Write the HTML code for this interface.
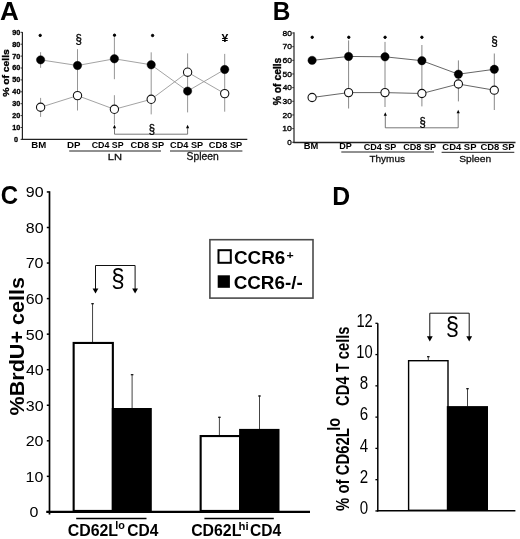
<!DOCTYPE html>
<html><head><meta charset="utf-8"><style>
html,body{margin:0;padding:0;background:#fff;}
body{width:520px;height:539px;overflow:hidden;font-family:"Liberation Sans", sans-serif;}
svg{display:block;filter:grayscale(1);}
</style></head><body>
<svg width="520" height="539" viewBox="0 0 520 539">
<rect width="520" height="539" fill="#fff"/>
<text transform="translate(0.05,19.80) scale(1.020,1)" font-family='"Liberation Sans", sans-serif' font-size="25.58" font-weight="bold" fill="#000">A</text>
<line x1="22.40" y1="32.00" x2="22.40" y2="139.90" stroke="#222" stroke-width="1.2"/>
<line x1="20.60" y1="32.30" x2="22.40" y2="32.30" stroke="#333" stroke-width="1"/>
<text transform="translate(12.29,34.78) scale(1.050,1)" font-family='"Liberation Sans", sans-serif' font-size="6.90" font-weight="bold" fill="#000" stroke="#000" stroke-width="0.3">90</text>
<line x1="20.60" y1="44.20" x2="22.40" y2="44.20" stroke="#333" stroke-width="1"/>
<text transform="translate(12.30,46.68) scale(1.050,1)" font-family='"Liberation Sans", sans-serif' font-size="6.90" font-weight="bold" fill="#000" stroke="#000" stroke-width="0.3">80</text>
<line x1="20.60" y1="56.10" x2="22.40" y2="56.10" stroke="#333" stroke-width="1"/>
<text transform="translate(12.26,58.58) scale(1.050,1)" font-family='"Liberation Sans", sans-serif' font-size="6.90" font-weight="bold" fill="#000" stroke="#000" stroke-width="0.3">70</text>
<line x1="20.60" y1="68.00" x2="22.40" y2="68.00" stroke="#333" stroke-width="1"/>
<text transform="translate(12.29,70.48) scale(1.050,1)" font-family='"Liberation Sans", sans-serif' font-size="6.90" font-weight="bold" fill="#000" stroke="#000" stroke-width="0.3">60</text>
<line x1="20.60" y1="79.90" x2="22.40" y2="79.90" stroke="#333" stroke-width="1"/>
<text transform="translate(12.31,82.38) scale(1.050,1)" font-family='"Liberation Sans", sans-serif' font-size="6.90" font-weight="bold" fill="#000" stroke="#000" stroke-width="0.3">50</text>
<line x1="20.60" y1="91.80" x2="22.40" y2="91.80" stroke="#333" stroke-width="1"/>
<text transform="translate(12.36,94.28) scale(1.050,1)" font-family='"Liberation Sans", sans-serif' font-size="6.90" font-weight="bold" fill="#000" stroke="#000" stroke-width="0.3">40</text>
<line x1="20.60" y1="103.70" x2="22.40" y2="103.70" stroke="#333" stroke-width="1"/>
<text transform="translate(12.34,106.17) scale(1.050,1)" font-family='"Liberation Sans", sans-serif' font-size="6.90" font-weight="bold" fill="#000" stroke="#000" stroke-width="0.3">30</text>
<line x1="20.60" y1="115.60" x2="22.40" y2="115.60" stroke="#333" stroke-width="1"/>
<text transform="translate(12.29,118.08) scale(1.050,1)" font-family='"Liberation Sans", sans-serif' font-size="6.90" font-weight="bold" fill="#000" stroke="#000" stroke-width="0.3">20</text>
<line x1="20.60" y1="127.50" x2="22.40" y2="127.50" stroke="#333" stroke-width="1"/>
<text transform="translate(12.19,129.98) scale(1.050,1)" font-family='"Liberation Sans", sans-serif' font-size="6.90" font-weight="bold" fill="#000" stroke="#000" stroke-width="0.3">10</text>
<line x1="20.60" y1="139.40" x2="22.40" y2="139.40" stroke="#333" stroke-width="1"/>
<text transform="translate(14.04,141.88) scale(1.050,1)" font-family='"Liberation Sans", sans-serif' font-size="6.90" font-weight="bold" fill="#000" stroke="#000" stroke-width="0.3">0</text>
<line x1="21.70" y1="139.40" x2="247.30" y2="139.40" stroke="#222" stroke-width="1.3"/>
<text transform="translate(8.71,96.86) rotate(-90) scale(1.102,1)" font-family='"Liberation Sans", sans-serif' font-size="9.40" font-weight="bold" fill="#000" stroke="#000" stroke-width="0.35">% of cells</text>
<line x1="40.60" y1="52.20" x2="40.60" y2="67.80" stroke="#8a8a8a" stroke-width="0.9"/>
<line x1="40.60" y1="97.90" x2="40.60" y2="116.90" stroke="#8a8a8a" stroke-width="0.9"/>
<line x1="77.50" y1="49.20" x2="77.50" y2="110.50" stroke="#8a8a8a" stroke-width="0.9"/>
<line x1="114.40" y1="37.20" x2="114.40" y2="79.20" stroke="#8a8a8a" stroke-width="0.9"/>
<line x1="114.40" y1="95.20" x2="114.40" y2="124.40" stroke="#8a8a8a" stroke-width="0.9"/>
<line x1="151.20" y1="52.30" x2="151.20" y2="114.40" stroke="#8a8a8a" stroke-width="0.9"/>
<line x1="187.60" y1="53.40" x2="187.60" y2="112.40" stroke="#8a8a8a" stroke-width="0.9"/>
<line x1="224.70" y1="53.90" x2="224.70" y2="111.70" stroke="#8a8a8a" stroke-width="0.9"/>
<polyline points="40.6,59.85 77.5,65.5 114.4,58.8 151.2,64.8 187.6,91.1 224.7,69.5" fill="none" stroke="#999" stroke-width="0.9"/>
<polyline points="40.6,107.25 77.5,95.6 114.4,109.3 151.2,99.3 187.6,72.2 224.7,93.6" fill="none" stroke="#999" stroke-width="0.9"/>
<circle cx="40.6" cy="59.85" r="4.2" fill="#000" stroke="#000" stroke-width="0.4"/>
<circle cx="77.5" cy="65.5" r="4.2" fill="#000" stroke="#000" stroke-width="0.4"/>
<circle cx="114.4" cy="58.8" r="4.2" fill="#000" stroke="#000" stroke-width="0.4"/>
<circle cx="151.2" cy="64.8" r="4.2" fill="#000" stroke="#000" stroke-width="0.4"/>
<circle cx="187.6" cy="91.1" r="4.2" fill="#000" stroke="#000" stroke-width="0.4"/>
<circle cx="224.7" cy="69.5" r="4.2" fill="#000" stroke="#000" stroke-width="0.4"/>
<circle cx="40.6" cy="107.25" r="4.15" fill="#fff" stroke="#111" stroke-width="1.1"/>
<circle cx="77.5" cy="95.6" r="4.15" fill="#fff" stroke="#111" stroke-width="1.1"/>
<circle cx="114.4" cy="109.3" r="4.15" fill="#fff" stroke="#111" stroke-width="1.1"/>
<circle cx="151.2" cy="99.3" r="4.15" fill="#fff" stroke="#111" stroke-width="1.1"/>
<circle cx="187.6" cy="72.2" r="4.15" fill="#fff" stroke="#111" stroke-width="1.1"/>
<circle cx="224.7" cy="93.6" r="4.15" fill="#fff" stroke="#111" stroke-width="1.1"/>
<circle cx="40.2" cy="35.4" r="1.2" fill="#000" stroke="#000" stroke-width="1"/>
<circle cx="114.5" cy="35.2" r="1.2" fill="#000" stroke="#000" stroke-width="1"/>
<circle cx="152.6" cy="35.5" r="1.2" fill="#000" stroke="#000" stroke-width="1"/>
<text transform="translate(75.55,42.91) scale(0.885,1)" font-family='"Liberation Sans", sans-serif' font-size="12.99" font-weight="normal" fill="#000" stroke="#000" stroke-width="0.3">§</text>
<text transform="translate(221.45,41.50) scale(1.052,1)" font-family='"Liberation Sans", sans-serif' font-size="11.63" font-weight="bold" fill="#000">¥</text>
<polyline points="114.5,127 114.5,134.2 187.6,134.2 187.6,127" fill="none" stroke="#555" stroke-width="0.8"/>
<polygon points="114.50,124.80 112.90,128.20 116.10,128.20" fill="#000"/>
<polygon points="187.60,124.80 186.00,128.20 189.20,128.20" fill="#000"/>
<text transform="translate(148.77,132.94) scale(0.893,1)" font-family='"Liberation Sans", sans-serif' font-size="12.61" font-weight="normal" fill="#000" stroke="#000" stroke-width="0.3">§</text>
<text transform="translate(31.26,147.90) scale(1.174,1)" font-family='"Liberation Sans", sans-serif' font-size="8.21" font-weight="bold" fill="#000">BM</text>
<text transform="translate(67.05,148.20) scale(1.077,1)" font-family='"Liberation Sans", sans-serif' font-size="9.01" font-weight="bold" fill="#000">DP</text>
<text transform="translate(91.64,148.11) scale(0.994,1)" font-family='"Liberation Sans", sans-serif' font-size="8.90" font-weight="bold" fill="#000">CD4 SP</text>
<text transform="translate(130.62,148.11) scale(1.042,1)" font-family='"Liberation Sans", sans-serif' font-size="8.90" font-weight="bold" fill="#000">CD8 SP</text>
<text transform="translate(170.12,148.11) scale(1.029,1)" font-family='"Liberation Sans", sans-serif' font-size="8.90" font-weight="bold" fill="#000">CD4 SP</text>
<text transform="translate(208.82,148.11) scale(1.042,1)" font-family='"Liberation Sans", sans-serif' font-size="8.90" font-weight="bold" fill="#000">CD8 SP</text>
<line x1="69.20" y1="151.00" x2="161.00" y2="151.00" stroke="#222" stroke-width="1.1"/>
<line x1="170.00" y1="151.00" x2="242.40" y2="151.00" stroke="#222" stroke-width="1"/>
<text transform="translate(107.79,159.50) scale(1.196,1)" font-family='"Liberation Sans", sans-serif' font-size="9.30" font-weight="normal" fill="#111" stroke="#111" stroke-width="0.3">LN</text>
<text transform="translate(186.53,159.66) scale(1.002,1)" font-family='"Liberation Sans", sans-serif' font-size="10.30" font-weight="normal" fill="#111" stroke="#111" stroke-width="0.3">Spleen</text>
<text transform="translate(272.87,19.80) scale(0.939,1)" font-family='"Liberation Sans", sans-serif' font-size="26.02" font-weight="bold" fill="#000">B</text>
<line x1="294.00" y1="32.30" x2="294.00" y2="142.90" stroke="#222" stroke-width="1.2"/>
<line x1="292.20" y1="33.00" x2="294.00" y2="33.00" stroke="#333" stroke-width="1"/>
<text transform="translate(282.53,35.72) scale(1.068,1)" font-family='"Liberation Sans", sans-serif' font-size="7.91" font-weight="normal" fill="#000" stroke="#000" stroke-width="0.35">80</text>
<line x1="292.20" y1="46.66" x2="294.00" y2="46.66" stroke="#333" stroke-width="1"/>
<text transform="translate(282.46,49.38) scale(1.076,1)" font-family='"Liberation Sans", sans-serif' font-size="7.91" font-weight="normal" fill="#000" stroke="#000" stroke-width="0.35">70</text>
<line x1="292.20" y1="60.32" x2="294.00" y2="60.32" stroke="#333" stroke-width="1"/>
<text transform="translate(282.47,63.04) scale(1.076,1)" font-family='"Liberation Sans", sans-serif' font-size="7.91" font-weight="normal" fill="#000" stroke="#000" stroke-width="0.35">60</text>
<line x1="292.20" y1="73.98" x2="294.00" y2="73.98" stroke="#333" stroke-width="1"/>
<text transform="translate(282.56,76.70) scale(1.065,1)" font-family='"Liberation Sans", sans-serif' font-size="7.91" font-weight="normal" fill="#000" stroke="#000" stroke-width="0.35">50</text>
<line x1="292.20" y1="87.64" x2="294.00" y2="87.64" stroke="#333" stroke-width="1"/>
<text transform="translate(282.71,90.36) scale(1.047,1)" font-family='"Liberation Sans", sans-serif' font-size="7.91" font-weight="normal" fill="#000" stroke="#000" stroke-width="0.35">40</text>
<line x1="292.20" y1="101.30" x2="294.00" y2="101.30" stroke="#333" stroke-width="1"/>
<text transform="translate(282.58,104.02) scale(1.063,1)" font-family='"Liberation Sans", sans-serif' font-size="7.91" font-weight="normal" fill="#000" stroke="#000" stroke-width="0.35">30</text>
<line x1="292.20" y1="114.96" x2="294.00" y2="114.96" stroke="#333" stroke-width="1"/>
<text transform="translate(282.47,117.68) scale(1.075,1)" font-family='"Liberation Sans", sans-serif' font-size="7.91" font-weight="normal" fill="#000" stroke="#000" stroke-width="0.35">20</text>
<line x1="292.20" y1="128.62" x2="294.00" y2="128.62" stroke="#333" stroke-width="1"/>
<text transform="translate(282.24,131.34) scale(1.103,1)" font-family='"Liberation Sans", sans-serif' font-size="7.91" font-weight="normal" fill="#000" stroke="#000" stroke-width="0.35">10</text>
<line x1="292.20" y1="142.28" x2="294.00" y2="142.28" stroke="#333" stroke-width="1"/>
<text transform="translate(287.18,145.03) scale(1.000,1)" font-family='"Liberation Sans", sans-serif' font-size="8.00" font-weight="normal" fill="#000" stroke="#000" stroke-width="0.35">0</text>
<line x1="293.40" y1="142.50" x2="515.50" y2="142.50" stroke="#222" stroke-width="1.3"/>
<text transform="translate(281.10,105.26) rotate(-90) scale(0.973,1)" font-family='"Liberation Sans", sans-serif' font-size="10.62" font-weight="bold" fill="#000" stroke="#000" stroke-width="0.35">% of cells</text>
<line x1="348.60" y1="40.40" x2="348.60" y2="108.50" stroke="#888" stroke-width="1.0"/>
<line x1="385.00" y1="41.90" x2="385.00" y2="107.00" stroke="#888" stroke-width="1.0"/>
<line x1="421.90" y1="45.00" x2="421.90" y2="106.40" stroke="#888" stroke-width="1.0"/>
<line x1="458.40" y1="60.40" x2="458.40" y2="101.40" stroke="#888" stroke-width="1.0"/>
<line x1="494.30" y1="53.50" x2="494.30" y2="110.00" stroke="#888" stroke-width="1.0"/>
<polyline points="312.1,60.4 348.6,56.45 385.0,56.8 421.9,60.7 458.4,74.2 494.3,69.3" fill="none" stroke="#555" stroke-width="0.9"/>
<polyline points="312.1,97.5 348.6,92.6 385.0,92.6 421.9,93.5 458.4,84.0 494.3,90.2" fill="none" stroke="#555" stroke-width="0.9"/>
<circle cx="312.1" cy="60.4" r="4.2" fill="#000" stroke="#000" stroke-width="0.4"/>
<circle cx="348.6" cy="56.45" r="4.2" fill="#000" stroke="#000" stroke-width="0.4"/>
<circle cx="385.0" cy="56.8" r="4.2" fill="#000" stroke="#000" stroke-width="0.4"/>
<circle cx="421.9" cy="60.7" r="4.2" fill="#000" stroke="#000" stroke-width="0.4"/>
<circle cx="458.4" cy="74.2" r="4.2" fill="#000" stroke="#000" stroke-width="0.4"/>
<circle cx="494.3" cy="69.3" r="4.2" fill="#000" stroke="#000" stroke-width="0.4"/>
<circle cx="312.1" cy="97.5" r="4.1" fill="#fff" stroke="#111" stroke-width="1.1"/>
<circle cx="348.6" cy="92.6" r="4.1" fill="#fff" stroke="#111" stroke-width="1.1"/>
<circle cx="385.0" cy="92.6" r="4.1" fill="#fff" stroke="#111" stroke-width="1.1"/>
<circle cx="421.9" cy="93.5" r="4.1" fill="#fff" stroke="#111" stroke-width="1.1"/>
<circle cx="458.4" cy="84.0" r="4.1" fill="#fff" stroke="#111" stroke-width="1.1"/>
<circle cx="494.3" cy="90.2" r="4.1" fill="#fff" stroke="#111" stroke-width="1.1"/>
<circle cx="312.2" cy="37.3" r="1.2" fill="#000" stroke="#000" stroke-width="1"/>
<circle cx="348.8" cy="37.3" r="1.2" fill="#000" stroke="#000" stroke-width="1"/>
<circle cx="385.1" cy="37.3" r="1.2" fill="#000" stroke="#000" stroke-width="1"/>
<circle cx="421.9" cy="37.3" r="1.2" fill="#000" stroke="#000" stroke-width="1"/>
<text transform="translate(491.34,45.39) scale(0.885,1)" font-family='"Liberation Sans", sans-serif' font-size="13.23" font-weight="normal" fill="#000" stroke="#000" stroke-width="0.3">§</text>
<polyline points="385.3,114 385.3,127.8 458.2,127.8 458.2,112" fill="none" stroke="#555" stroke-width="0.8"/>
<polygon points="385.30,112.30 383.70,115.70 386.90,115.70" fill="#000"/>
<polygon points="458.20,109.80 456.60,113.20 459.80,113.20" fill="#000"/>
<text transform="translate(419.47,125.90) scale(0.949,1)" font-family='"Liberation Sans", sans-serif' font-size="11.87" font-weight="normal" fill="#000" stroke="#000" stroke-width="0.3">§</text>
<text transform="translate(303.77,149.40) scale(1.150,1)" font-family='"Liberation Sans", sans-serif' font-size="8.14" font-weight="bold" fill="#000">BM</text>
<text transform="translate(339.19,149.40) scale(1.116,1)" font-family='"Liberation Sans", sans-serif' font-size="8.14" font-weight="bold" fill="#000">DP</text>
<text transform="translate(363.63,149.52) scale(1.068,1)" font-family='"Liberation Sans", sans-serif' font-size="8.47" font-weight="bold" fill="#000">CD4 SP</text>
<text transform="translate(403.13,149.52) scale(1.078,1)" font-family='"Liberation Sans", sans-serif' font-size="8.47" font-weight="bold" fill="#000">CD8 SP</text>
<text transform="translate(442.31,149.52) scale(1.118,1)" font-family='"Liberation Sans", sans-serif' font-size="8.47" font-weight="bold" fill="#000">CD4 SP</text>
<text transform="translate(480.41,149.52) scale(1.118,1)" font-family='"Liberation Sans", sans-serif' font-size="8.47" font-weight="bold" fill="#000">CD8 SP</text>
<line x1="341.30" y1="152.00" x2="434.00" y2="152.00" stroke="#222" stroke-width="1"/>
<line x1="441.60" y1="152.30" x2="514.30" y2="152.30" stroke="#222" stroke-width="1"/>
<text transform="translate(369.38,161.50) scale(1.036,1)" font-family='"Liberation Sans", sans-serif' font-size="9.66" font-weight="normal" fill="#111" stroke="#111" stroke-width="0.3">Thymus</text>
<text transform="translate(459.13,161.75) scale(1.042,1)" font-family='"Liberation Sans", sans-serif' font-size="9.87" font-weight="normal" fill="#111" stroke="#111" stroke-width="0.3">Spleen</text>
<text transform="translate(0.72,203.96) scale(0.966,1)" font-family='"Liberation Sans", sans-serif' font-size="24.86" font-weight="bold" fill="#000">C</text>
<line x1="49.50" y1="191.20" x2="49.50" y2="514.60" stroke="#000" stroke-width="1.7"/>
<line x1="46.80" y1="191.95" x2="49.50" y2="191.95" stroke="#000" stroke-width="1.5"/>
<text transform="translate(25.73,197.35) scale(1.040,1)" font-family='"Liberation Sans", sans-serif' font-size="15.40" font-weight="normal" fill="#000">90</text>
<line x1="46.80" y1="227.50" x2="49.50" y2="227.50" stroke="#000" stroke-width="1.5"/>
<text transform="translate(25.76,232.90) scale(1.040,1)" font-family='"Liberation Sans", sans-serif' font-size="15.40" font-weight="normal" fill="#000">80</text>
<line x1="46.80" y1="263.05" x2="49.50" y2="263.05" stroke="#000" stroke-width="1.5"/>
<text transform="translate(25.69,268.45) scale(1.040,1)" font-family='"Liberation Sans", sans-serif' font-size="15.40" font-weight="normal" fill="#000">70</text>
<line x1="46.80" y1="298.60" x2="49.50" y2="298.60" stroke="#000" stroke-width="1.5"/>
<text transform="translate(25.70,304.00) scale(1.040,1)" font-family='"Liberation Sans", sans-serif' font-size="15.40" font-weight="normal" fill="#000">60</text>
<line x1="46.80" y1="334.15" x2="49.50" y2="334.15" stroke="#000" stroke-width="1.5"/>
<text transform="translate(25.78,339.55) scale(1.040,1)" font-family='"Liberation Sans", sans-serif' font-size="15.40" font-weight="normal" fill="#000">50</text>
<line x1="46.80" y1="369.70" x2="49.50" y2="369.70" stroke="#000" stroke-width="1.5"/>
<text transform="translate(25.92,375.10) scale(1.040,1)" font-family='"Liberation Sans", sans-serif' font-size="15.40" font-weight="normal" fill="#000">40</text>
<line x1="46.80" y1="405.25" x2="49.50" y2="405.25" stroke="#000" stroke-width="1.5"/>
<text transform="translate(25.80,410.65) scale(1.040,1)" font-family='"Liberation Sans", sans-serif' font-size="15.40" font-weight="normal" fill="#000">30</text>
<line x1="46.80" y1="440.80" x2="49.50" y2="440.80" stroke="#000" stroke-width="1.5"/>
<text transform="translate(25.70,446.20) scale(1.040,1)" font-family='"Liberation Sans", sans-serif' font-size="15.40" font-weight="normal" fill="#000">20</text>
<line x1="46.80" y1="476.35" x2="49.50" y2="476.35" stroke="#000" stroke-width="1.5"/>
<text transform="translate(25.50,481.75) scale(1.040,1)" font-family='"Liberation Sans", sans-serif' font-size="15.40" font-weight="normal" fill="#000">10</text>
<line x1="46.80" y1="511.90" x2="49.50" y2="511.90" stroke="#000" stroke-width="1.5"/>
<text transform="translate(29.55,517.30) scale(1.040,1)" font-family='"Liberation Sans", sans-serif' font-size="15.40" font-weight="normal" fill="#000">0</text>
<line x1="46.30" y1="511.90" x2="310.00" y2="511.90" stroke="#000" stroke-width="2.2"/>
<text transform="translate(23.50,415.44) rotate(-90) scale(1.043,1)" font-family='"Liberation Sans", sans-serif' font-size="20.70" font-weight="bold" fill="#000">%BrdU+ cells</text>
<line x1="92.55" y1="303.20" x2="92.55" y2="343.00" stroke="#444" stroke-width="1"/>
<line x1="91.25" y1="303.70" x2="93.85" y2="303.70" stroke="#111" stroke-width="1.2"/>
<line x1="132.10" y1="374.20" x2="132.10" y2="408.50" stroke="#444" stroke-width="1"/>
<line x1="130.80" y1="374.70" x2="133.40" y2="374.70" stroke="#111" stroke-width="1.2"/>
<line x1="219.40" y1="416.80" x2="219.40" y2="436.00" stroke="#444" stroke-width="1"/>
<line x1="218.10" y1="417.30" x2="220.70" y2="417.30" stroke="#111" stroke-width="1.2"/>
<line x1="259.50" y1="395.50" x2="259.50" y2="430.00" stroke="#444" stroke-width="1"/>
<line x1="258.20" y1="396.00" x2="260.80" y2="396.00" stroke="#111" stroke-width="1.2"/>
<rect x="73.65" y="342.95" width="39.20" height="168.00" fill="#fff" stroke="#000" stroke-width="2.1"/>
<rect x="111.8" y="408.0" width="40.00" height="104.00" fill="#000"/>
<rect x="200.65" y="436.05" width="39.50" height="74.90" fill="#fff" stroke="#000" stroke-width="2.1"/>
<rect x="239.1" y="428.9" width="40.40" height="83.10" fill="#000"/>
<polyline points="95.5,290 95.5,265.5 135.1,265.5 135.1,290" fill="none" stroke="#111" stroke-width="1"/>
<polygon points="95.50,293.60 92.60,288.40 98.40,288.40" fill="#000"/>
<polygon points="135.10,293.60 132.20,288.40 138.00,288.40" fill="#000"/>
<text transform="translate(111.35,287.18) scale(0.911,1)" font-family='"Liberation Sans", sans-serif' font-size="26.47" font-weight="normal" fill="#000">§</text>
<line x1="76.20" y1="518.50" x2="146.50" y2="518.50" stroke="#000" stroke-width="1.6"/>
<line x1="204.40" y1="518.50" x2="273.80" y2="518.50" stroke="#000" stroke-width="1.6"/>
<text transform="translate(67.65,536.04) scale(0.972,1)" font-family='"Liberation Sans", sans-serif' font-size="16.38" font-weight="bold" fill="#000">CD62L</text>
<text transform="translate(115.34,529.49) scale(0.976,1)" font-family='"Liberation Sans", sans-serif' font-size="11.17" font-weight="bold" fill="#000">lo</text>
<text transform="translate(127.16,535.94) scale(0.950,1)" font-family='"Liberation Sans", sans-serif' font-size="16.38" font-weight="bold" fill="#000">CD4</text>
<text transform="translate(191.15,535.84) scale(0.968,1)" font-family='"Liberation Sans", sans-serif' font-size="16.38" font-weight="bold" fill="#000">CD62L</text>
<text transform="translate(238.51,530.00) scale(1.069,1)" font-family='"Liberation Sans", sans-serif' font-size="10.63" font-weight="bold" fill="#000">hi</text>
<text transform="translate(249.96,535.84) scale(0.953,1)" font-family='"Liberation Sans", sans-serif' font-size="16.38" font-weight="bold" fill="#000">CD4</text>
<rect x="209.90" y="239.70" width="103.10" height="58.40" fill="#fff" stroke="#4a4a4a" stroke-width="1.6"/>
<rect x="218.50" y="250.20" width="12.30" height="12.60" fill="#fff" stroke="#000" stroke-width="2.0"/>
<rect x="217.7" y="275.3" width="12.20" height="12.50" fill="#000"/>
<text transform="translate(233.92,263.56) scale(0.995,1)" font-family='"Liberation Sans", sans-serif' font-size="19.00" font-weight="bold" fill="#000">CCR6</text>
<text transform="translate(286.58,258.90) scale(1.082,1)" font-family='"Liberation Sans", sans-serif' font-size="11.42" font-weight="bold" fill="#000">+</text>
<text transform="translate(233.63,289.02) scale(0.996,1)" font-family='"Liberation Sans", sans-serif' font-size="18.94" font-weight="bold" fill="#000">CCR6-/-</text>
<text transform="translate(332.34,204.60) scale(0.958,1)" font-family='"Liberation Sans", sans-serif' font-size="25.87" font-weight="bold" fill="#000">D</text>
<line x1="377.80" y1="323.30" x2="377.80" y2="511.40" stroke="#000" stroke-width="1.5"/>
<line x1="375.40" y1="323.30" x2="377.80" y2="323.30" stroke="#000" stroke-width="1.3"/>
<text transform="translate(356.40,326.58) scale(0.820,1)" font-family='"Liberation Sans", sans-serif' font-size="18.00" font-weight="normal" fill="#000">12</text>
<line x1="375.40" y1="354.57" x2="377.80" y2="354.57" stroke="#000" stroke-width="1.3"/>
<text transform="translate(356.32,357.77) scale(0.820,1)" font-family='"Liberation Sans", sans-serif' font-size="18.00" font-weight="normal" fill="#000">10</text>
<line x1="375.40" y1="385.85" x2="377.80" y2="385.85" stroke="#000" stroke-width="1.3"/>
<text transform="translate(359.70,389.05) scale(0.840,1)" font-family='"Liberation Sans", sans-serif' font-size="18.00" font-weight="normal" fill="#000">8</text>
<line x1="375.40" y1="417.12" x2="377.80" y2="417.12" stroke="#000" stroke-width="1.3"/>
<text transform="translate(359.64,420.32) scale(0.840,1)" font-family='"Liberation Sans", sans-serif' font-size="18.00" font-weight="normal" fill="#000">6</text>
<line x1="375.40" y1="448.40" x2="377.80" y2="448.40" stroke="#000" stroke-width="1.3"/>
<text transform="translate(359.74,451.59) scale(0.840,1)" font-family='"Liberation Sans", sans-serif' font-size="18.00" font-weight="normal" fill="#000">4</text>
<line x1="375.40" y1="479.68" x2="377.80" y2="479.68" stroke="#000" stroke-width="1.3"/>
<text transform="translate(359.70,482.96) scale(0.840,1)" font-family='"Liberation Sans", sans-serif' font-size="18.00" font-weight="normal" fill="#000">2</text>
<line x1="375.40" y1="510.95" x2="377.80" y2="510.95" stroke="#000" stroke-width="1.3"/>
<text transform="translate(359.70,514.15) scale(0.840,1)" font-family='"Liberation Sans", sans-serif' font-size="18.00" font-weight="normal" fill="#000">0</text>
<line x1="376.90" y1="510.80" x2="515.40" y2="510.80" stroke="#000" stroke-width="1.6"/>
<text transform="translate(349.00,510.97) rotate(-90) scale(0.817,1)" font-family='"Liberation Sans", sans-serif' font-size="18.25" font-weight="bold" fill="#000">% of CD62L</text>
<text transform="translate(340.32,430.82) rotate(-90) scale(0.807,1)" font-family='"Liberation Sans", sans-serif' font-size="18.11" font-weight="bold" fill="#000">lo</text>
<text transform="translate(349.00,405.91) rotate(-90) scale(0.820,1)" font-family='"Liberation Sans", sans-serif' font-size="18.01" font-weight="bold" fill="#000">CD4 T cells</text>
<line x1="428.30" y1="356.20" x2="428.30" y2="361.00" stroke="#444" stroke-width="1"/>
<line x1="427.00" y1="356.70" x2="429.60" y2="356.70" stroke="#111" stroke-width="1.2"/>
<line x1="467.50" y1="388.20" x2="467.50" y2="406.50" stroke="#444" stroke-width="1"/>
<line x1="466.20" y1="388.70" x2="468.80" y2="388.70" stroke="#111" stroke-width="1.2"/>
<rect x="408.60" y="360.70" width="39.40" height="149.60" fill="#fff" stroke="#000" stroke-width="1.4"/>
<rect x="446.8" y="406.1" width="41.20" height="104.90" fill="#000"/>
<polyline points="429.8,338 429.8,313.2 469.2,313.2 469.2,338" fill="none" stroke="#111" stroke-width="1"/>
<polygon points="429.80,341.40 426.90,336.20 432.70,336.20" fill="#000"/>
<polygon points="469.20,341.40 466.30,336.20 472.10,336.20" fill="#000"/>
<text transform="translate(445.76,335.30) scale(0.911,1)" font-family='"Liberation Sans", sans-serif' font-size="26.22" font-weight="normal" fill="#000">§</text>
</svg>
</body></html>
